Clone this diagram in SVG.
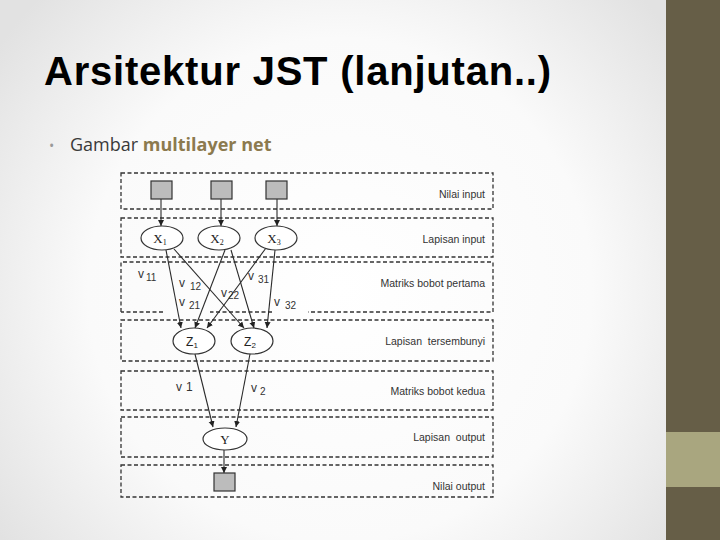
<svg xmlns="http://www.w3.org/2000/svg" width="720" height="540" viewBox="0 0 720 540">
<defs>
<radialGradient id="bg" cx="340" cy="290" r="420" gradientUnits="userSpaceOnUse">
<stop offset="0" stop-color="#ffffff"/>
<stop offset="0.6" stop-color="#fafafa"/>
<stop offset="1" stop-color="#e2e2e2"/>
</radialGradient>
<marker id="ah" markerWidth="7" markerHeight="7" refX="6" refY="3" orient="auto" markerUnits="userSpaceOnUse">
<path d="M0,0 L6,3 L0,6 Z" fill="#222"/>
</marker>
<style>
.box{fill:none;stroke:#333;stroke-width:1.3;stroke-dasharray:4 2.5}
.lbl{font-family:"Liberation Sans",Arial,sans-serif;font-size:10.5px;fill:#333;text-anchor:end}
.w{font-family:"Liberation Sans",Arial,sans-serif;font-size:12px;fill:#333}
.ws{font-size:10px}
.sq{fill:#bcbcbc;stroke:#333;stroke-width:1.2}
.el{fill:#fff;stroke:#333;stroke-width:1.2}
.nt{font-family:"Liberation Serif","Times New Roman",serif;font-size:13px;fill:#222;text-anchor:middle}
.ns{font-family:"Liberation Sans",Arial,sans-serif;font-size:12px;fill:#222;text-anchor:middle}
.cn line{stroke:#2a2a2a;stroke-width:1.1;marker-end:url(#ah)}
</style>
</defs>
<rect width="720" height="540" fill="url(#bg)"/>
<rect x="666" y="0" width="54" height="540" fill="#665e47"/>
<rect x="666" y="432" width="54" height="55" fill="#a9a67f"/>

<text x="44" y="85" font-family="Liberation Sans,Arial,sans-serif" font-weight="bold" font-size="40" fill="#000" textLength="507" lengthAdjust="spacing">Arsitektur JST (lanjutan..)</text>
<text x="49" y="151" font-family="Open Sans,Liberation Sans,sans-serif" font-size="14" fill="#999">•</text>
<text x="70" y="151" font-family="Open Sans,Liberation Sans,sans-serif" font-size="18" fill="#3a3a3a">Gambar <tspan font-weight="bold" fill="#8c7a4e">multilayer net</tspan></text>

<g id="layers">
<rect class="box" x="121" y="173" width="372" height="36"/>
<rect class="box" x="121" y="218" width="372" height="39"/>
<path class="box" d="M121,312 V262 H493 V312 H308 M272,312 H210 M163,312 H121"/>
<rect class="box" x="121" y="320" width="372" height="41"/>
<rect class="box" x="121" y="371" width="372" height="39"/>
<rect class="box" x="121" y="417" width="372" height="40"/>
<rect class="box" x="121" y="465" width="372" height="32"/>
<text class="lbl" x="485" y="198">Nilai input</text>
<text class="lbl" x="485" y="243">Lapisan input</text>
<text class="lbl" x="485" y="287">Matriks bobot pertama</text>
<text class="lbl" x="485" y="345" xml:space="preserve">Lapisan  tersembunyi</text>
<text class="lbl" x="485" y="395">Matriks bobot kedua</text>
<text class="lbl" x="485" y="441" xml:space="preserve">Lapisan  output</text>
<text class="lbl" x="485" y="490">Nilai output</text>
</g>

<g class="cn" id="connectors">
<line x1="161" y1="199" x2="161" y2="226"/>
<line x1="221" y1="199" x2="221" y2="226"/>
<line x1="277" y1="199" x2="277" y2="226"/>
<line x1="166" y1="250" x2="181" y2="328"/>
<line x1="174" y1="249" x2="244" y2="328"/>
<line x1="225" y1="250" x2="195" y2="328"/>
<line x1="231" y1="250" x2="254" y2="328"/>
<line x1="266" y1="248" x2="207" y2="328"/>
<line x1="275" y1="250" x2="267" y2="328"/>
<line x1="195" y1="354" x2="213" y2="427"/>
<line x1="250" y1="354" x2="236" y2="427"/>
<line x1="224" y1="450" x2="224" y2="473"/>
</g>

<g id="weights">
<text class="w" x="138" y="278">v<tspan class="ws" x="146" y="281">11</tspan></text>
<text class="w" x="179" y="287">v<tspan class="ws" x="190" y="290">12</tspan></text>
<text class="w" x="179" y="306">v<tspan class="ws" x="189" y="309">21</tspan></text>
<text class="w" x="221" y="297">v<tspan class="ws" x="228" y="299">22</tspan></text>
<text class="w" x="248" y="280">v<tspan class="ws" x="258" y="283">31</tspan></text>
<text class="w" x="274" y="306">v<tspan class="ws" x="285" y="309">32</tspan></text>
<text class="w" x="176" y="391">v<tspan x="186">1</tspan></text>
<text class="w" x="251" y="392">v<tspan class="ws" x="260" y="395">2</tspan></text>
</g>

<g id="in1"><rect class="sq" x="151" y="181" width="21" height="18"/></g>
<g id="in2"><rect class="sq" x="211" y="181" width="21" height="18"/></g>
<g id="in3"><rect class="sq" x="266" y="181" width="21" height="18"/></g>
<g id="x1"><ellipse class="el" cx="162" cy="238" rx="21" ry="12"/><text class="nt" x="160" y="243">X<tspan font-size="8" dy="2">1</tspan></text></g>
<g id="x2"><ellipse class="el" cx="219" cy="238" rx="21" ry="12"/><text class="nt" x="217" y="243">X<tspan font-size="8" dy="2">2</tspan></text></g>
<g id="x3"><ellipse class="el" cx="276" cy="238" rx="21" ry="12"/><text class="nt" x="274" y="243">X<tspan font-size="8" dy="2">3</tspan></text></g>
<g id="z1"><ellipse class="el" cx="194" cy="341" rx="21" ry="13"/><text class="ns" x="192" y="346">Z<tspan font-size="8" dy="2">1</tspan></text></g>
<g id="z2"><ellipse class="el" cx="252" cy="341" rx="21" ry="13"/><text class="ns" x="250" y="346">Z<tspan font-size="8" dy="2">2</tspan></text></g>
<g id="y"><ellipse class="el" cx="225" cy="439" rx="22" ry="11"/><text class="nt" x="225" y="444">Y</text></g>
<g id="out"><rect class="sq" x="214" y="473" width="21" height="18"/></g>
</svg>
